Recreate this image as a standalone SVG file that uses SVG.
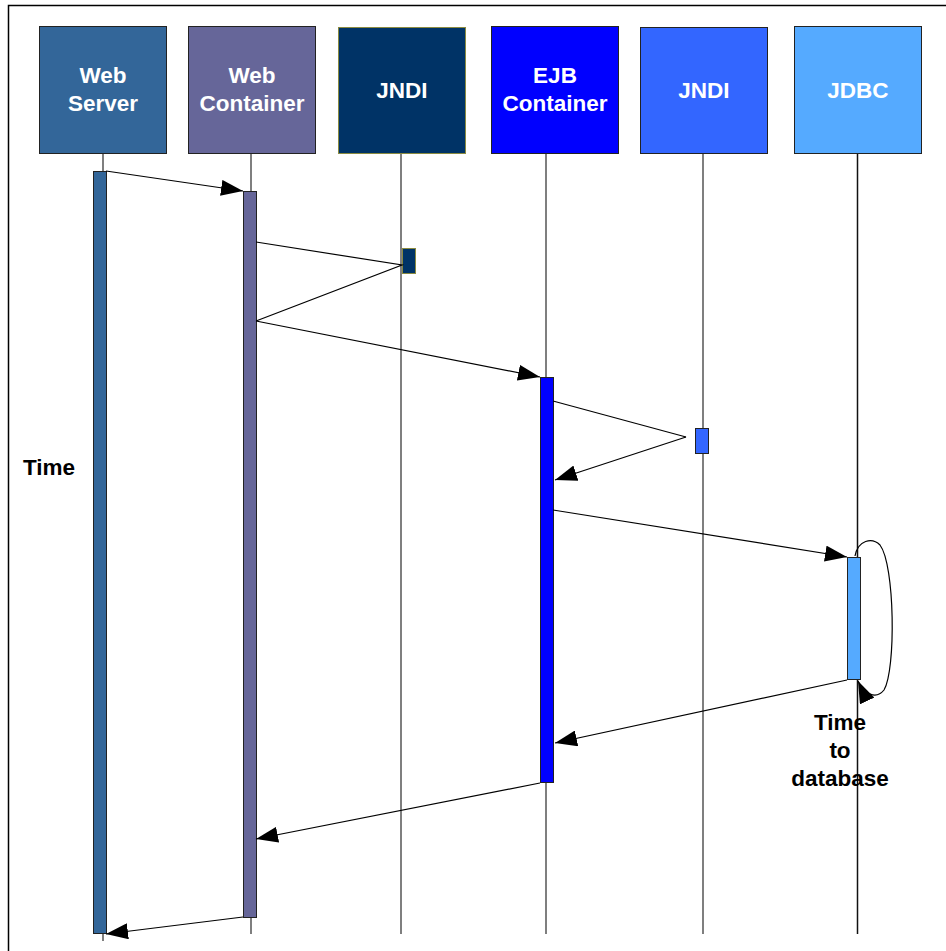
<svg xmlns="http://www.w3.org/2000/svg" width="946" height="951" viewBox="0 0 946 951">
<style>
.box{stroke:#222;stroke-width:1}
.lbl{font-family:"Liberation Sans",Arial,sans-serif;font-weight:bold;font-size:22.5px;fill:#fff;text-anchor:middle}
.life{stroke:#555;stroke-width:1.5}
.act{stroke:#222;stroke-width:1}
.msg{stroke:#000;stroke-width:1.2;fill:none}
.note{font-family:"Liberation Sans",Arial,sans-serif;font-weight:bold;font-size:22.5px;fill:#000}
</style>
<defs>
<marker id="ah" viewBox="0 0 22 16" refX="22" refY="8" markerWidth="22" markerHeight="16" markerUnits="userSpaceOnUse" orient="auto">
<path d="M0,0 L22,8 L0,16 Z" fill="#000"/>
</marker>
</defs>
<rect width="946" height="951" fill="#fff"/>
<path d="M8.5,951 V5.5 H946" fill="none" stroke="#000" stroke-width="1.5"/>

<g id="web-server">
<line class="life" x1="103" y1="154" x2="103" y2="941"/>
<rect class="box" x="39.5" y="26.5" width="127" height="127" fill="#336699"/>
<text class="lbl" x="103" y="83">Web</text>
<text class="lbl" x="103" y="111">Server</text>
<rect class="act" x="93.5" y="171.5" width="13" height="762" fill="#336699"/>
</g>
<g id="web-container">
<line class="life" x1="251" y1="154" x2="251" y2="934"/>
<rect class="box" x="188.5" y="26.5" width="127" height="127" fill="#666699"/>
<text class="lbl" x="252" y="83">Web</text>
<text class="lbl" x="252" y="111">Container</text>
<rect class="act" x="243.5" y="191.5" width="13" height="726" fill="#666699"/>
</g>
<g id="jndi-1">
<line class="life" x1="401" y1="154" x2="401" y2="934"/>
<rect x="338.5" y="27.5" width="127" height="126" fill="#003366" stroke="#8a8a40" stroke-width="1"/>
<text class="lbl" x="402" y="98">JNDI</text>
<rect x="402.5" y="248.5" width="13" height="25" fill="#003366" stroke="#8a8a40" stroke-width="1"/>
</g>
<g id="ejb-container">
<line class="life" x1="546" y1="154" x2="546" y2="934"/>
<rect class="box" x="491.5" y="26.5" width="127" height="127" fill="#0000FF"/>
<text class="lbl" x="555" y="83">EJB</text>
<text class="lbl" x="555" y="111">Container</text>
<rect class="act" x="540.5" y="377.5" width="13" height="405" fill="#0000FF"/>
</g>
<g id="jndi-2">
<line class="life" x1="703" y1="154" x2="703" y2="934"/>
<rect class="box" x="640.5" y="27.5" width="127" height="126" fill="#3366FF"/>
<text class="lbl" x="704" y="98">JNDI</text>
<rect class="act" x="695.5" y="428.5" width="13" height="25" fill="#3366FF"/>
</g>
<g id="jdbc">
<line x1="857.5" y1="154" x2="857.5" y2="934" stroke="#111" stroke-width="1.5"/>
<rect class="box" x="794.5" y="26.5" width="127" height="127" fill="#55AAFF"/>
<text class="lbl" x="858" y="98">JDBC</text>
<rect class="act" x="847.5" y="557.5" width="13" height="122" fill="#55AAFF"/>
</g>

<g id="connectors">
<line class="msg" x1="106" y1="171" x2="243" y2="191" marker-end="url(#ah)"/>
<polyline class="msg" points="256,242 402,265 256,321"/>
<line class="msg" x1="256" y1="321" x2="540" y2="377" marker-end="url(#ah)"/>
<polyline class="msg" points="553,401 686,437"/>
<line class="msg" x1="686" y1="437" x2="555" y2="480" marker-end="url(#ah)"/>
<line class="msg" x1="553" y1="510" x2="847" y2="557" marker-end="url(#ah)"/>
<path class="msg" d="M855,556 C858,540 872,537 880,545 C895,565 896,670 884,690 C876,700 864,694 858,681" marker-end="url(#ah)"/>
<line class="msg" x1="847" y1="680" x2="555" y2="743" marker-end="url(#ah)"/>
<line class="msg" x1="540" y1="783" x2="256" y2="839" marker-end="url(#ah)"/>
<line class="msg" x1="243" y1="917" x2="106" y2="934" marker-end="url(#ah)"/>
</g>

<g id="labels">
<text class="note" x="23" y="475">Time</text>
<text class="note" x="840" y="730" text-anchor="middle">Time</text>
<text class="note" x="840" y="758" text-anchor="middle">to</text>
<text class="note" x="840" y="786" text-anchor="middle">database</text>
</g>
</svg>
